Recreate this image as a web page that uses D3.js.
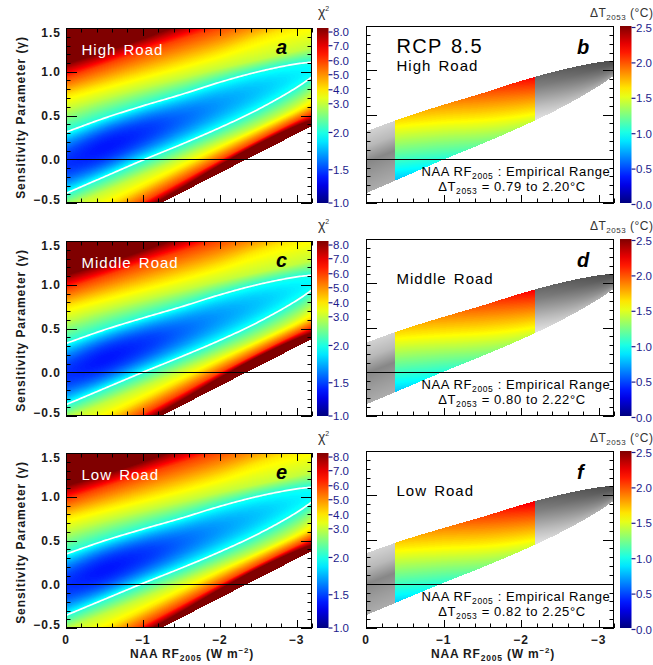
<!DOCTYPE html>
<html>
<head>
<meta charset="utf-8">
<script src="https://cdn.jsdelivr.net/npm/d3@7"></script>
<style>
  body { margin: 0; background: #fff; }
  text { font-family: "Liberation Sans", Arial, sans-serif; }
</style>
</head>
<body>
<svg width="653" height="665"></svg>
<script>
var svg = d3.select('svg');

// ---- data ----
var xs = [0, -0.5, -1.0, -1.5, -2.0, -2.5, -3.0, -3.2];
var chiLevels = [2, 3, 4, 6, 8];
// gamma of each chi2 contour above the valley (rows follow chiLevels)
var upperG = [
  [0.31, 0.47, 0.61, 0.74, 0.88, 1.00, 1.09, 1.11],
  [0.57, 0.70, 0.82, 0.93, 1.04, 1.14, 1.24, 1.28],
  [0.73, 0.85, 0.97, 1.09, 1.22, 1.38, 1.52, 1.57],
  [0.93, 1.08, 1.23, 1.37, 1.51, 1.65, 1.78, 1.83],
  [1.07, 1.21, 1.36, 1.52, 1.68, 1.83, 1.97, 2.02]
];
// gamma of each chi2 contour below the valley
var lowerG = [
  [-0.39, -0.20, -0.01, 0.17, 0.36, 0.57, 0.82, 0.94],
  [-0.55, -0.37, -0.18, 0.01, 0.20, 0.39, 0.62, 0.74],
  [-0.76, -0.54, -0.32, -0.10, 0.12, 0.33, 0.54, 0.63],
  [-0.97, -0.74, -0.49, -0.25, -0.01, 0.22, 0.44, 0.52],
  [-1.08, -0.82, -0.57, -0.32, -0.06, 0.18, 0.39, 0.46]
];
var chiMin = [1.45, 1.38, 1.45, 1.58, 1.70, 1.80, 1.90, 1.93];
// edge of the valid region (blank below it)
var blankX = [0, -1.24, -2.35, -3.2];
var blankG = [-1.06, -0.5, 0.0, 0.38];

var roads = ['High Road', 'Middle Road', 'Low Road'];
var leftLetters = ['a', 'c', 'e'];
var rightLetters = ['b', 'd', 'f'];
var roadShift = [
  [0, 0, 0, 0, 0, 0, 0, 0],
  [0.02, 0.015, 0.01, 0.008, 0.005, 0.003, 0, 0],
  [0.035, 0.028, 0.02, 0.015, 0.01, 0.005, 0, 0]
];

// empirical NAA RF2005 range and Delta T2053 along the band
var empirical = [-0.38, -2.18];
var dtX = [-0.38, -1.0, -1.6, -2.18];
var dtLow = [
  [0.79, 1.02, 1.25, 1.45],
  [0.80, 1.03, 1.26, 1.46],
  [0.82, 1.05, 1.28, 1.48]
];
var dtHigh = [
  [1.65, 1.82, 2.00, 2.20],
  [1.66, 1.84, 2.02, 2.22],
  [1.68, 1.86, 2.05, 2.25]
];
var dtRange = [['0.79', '2.20'], ['0.80', '2.22'], ['0.82', '2.25']];

// grey shading of the band outside the empirical range (bottom -> top)
var grayF = [0, 0.25, 0.5, 0.75, 1];
var grayLeft = [172, 155, 135, 185, 210];
var grayRightNear = [228, 200, 165, 130, 105];
var grayRightFar = [165, 130, 105, 85, 75];

var xTicks = [0, -1, -2, -3];
var yTicks = [-0.5, 0.0, 0.5, 1.0, 1.5];
var chiTicks = [1.0, 1.5, 2.0, 3.0, 4.0, 5.0, 6.0, 7.0, 8.0];
var dtTicks = [0.0, 0.5, 1.0, 1.5, 2.0, 2.5];

// ---- layout ----
var L = {x0: 66, x1: 312, h: 175};
var R = {x0: 366, x1: 614, h: 177};
var leftTops = [28, 241, 453];
var rightTops = [26, 239, 451];
var navy = '#1c1c8c';

// ---- colours ----
var jetScale = d3.scaleLinear().domain([0, 0.125, 0.375, 0.625, 0.875, 1])
  .range(['#00007f', '#0000ff', '#00ffff', '#ffff00', '#ff0000', '#800000']);
var lut = d3.range(256).map(function (i) {
  var c = d3.rgb(jetScale(i / 255));
  return [c.r, c.g, c.b];
});
var jetRGB = function (t) {
  t = Math.max(0, Math.min(1, t));
  return lut[Math.round(t * 255)];
};
// colour bar position of chi2 values (bar is not linear)
var chiFrac = d3.scaleLinear()
  .domain([1, 1.5, 2, 3, 4, 5, 6, 7, 8, 8.28])
  .range([0, 0.19, 0.403, 0.567, 0.647, 0.733, 0.813, 0.899, 0.977, 1]).clamp(true);

var lerpArr = function (fs, arr, f) {
  return d3.scaleLinear().domain(fs).range(arr).clamp(true)(f);
};

// smooth cubic through the sampled points (x given as NAA RF, descending)
var smooth = function (xv, yv) {
  var t = xv.map(function (v) { return -v; });
  var n = t.length, d = [], m = [];
  for (var i = 0; i < n - 1; i++) d.push((yv[i + 1] - yv[i]) / (t[i + 1] - t[i]));
  m[0] = d[0]; m[n - 1] = d[n - 2];
  for (i = 1; i < n - 1; i++) m[i] = (d[i - 1] + d[i]) / 2;
  return function (x) {
    var s = -x, k = 0;
    while (k < n - 2 && s > t[k + 1]) k++;
    var h = t[k + 1] - t[k], u = (s - t[k]) / h;
    var u2 = u * u, u3 = u2 * u;
    return (2 * u3 - 3 * u2 + 1) * yv[k] + (u3 - 2 * u2 + u) * h * m[k] +
      (-2 * u3 + 3 * u2) * yv[k + 1] + (u3 - u2) * h * m[k + 1];
  };
};

var levelFns = function (table, r) {
  return table.map(function (row) {
    return smooth(xs, row.map(function (v, i) { return v + roadShift[r][i]; }));
  });
};

var chiAt = function (g, U, Lo, m) {
  if (g <= U[0] && g >= Lo[0]) {
    var c = (U[0] + Lo[0]) / 2, hw = (U[0] - Lo[0]) / 2, u = (g - c) / hw;
    return m + (2 - m) * u * u;
  }
  var P = g > U[0] ? U : Lo;
  var s = g > U[0] ? 1 : -1;
  for (var k = 0; k < chiLevels.length - 1; k++) {
    if (s * (g - P[k + 1]) <= 0) {
      return chiLevels[k] + (chiLevels[k + 1] - chiLevels[k]) * (g - P[k]) / (P[k + 1] - P[k]);
    }
  }
  var n = chiLevels.length - 1;
  return 8 + 2 * (g - P[n]) / (P[n] - P[n - 1]);
};

var rasterImage = function (g, x0, top, w, h, pixel) {
  var canvas = document.createElement('canvas');
  canvas.width = w; canvas.height = h;
  var ctx = canvas.getContext('2d');
  var img = ctx.createImageData(w, h);
  for (var i = 0; i < w; i++) {
    var col = pixel(i);
    for (var j = 0; j < h; j++) {
      var c = col(j);
      if (!c) continue;
      var p = (j * w + i) * 4;
      img.data[p] = c[0]; img.data[p + 1] = c[1]; img.data[p + 2] = c[2]; img.data[p + 3] = 255;
    }
  }
  ctx.putImageData(img, 0, 0);
  g.append('image').attr('x', x0).attr('y', top).attr('width', w).attr('height', h)
    .attr('preserveAspectRatio', 'none').attr('href', canvas.toDataURL());
};

var drawTicks = function (g, x, y, x0, x1, top, bottom, withTop) {
  var xMinor = d3.range(0, -3.21, -0.2);
  var yMinor = d3.range(-0.5, 1.501, 0.1);
  xMinor.forEach(function (v) {
    var major = Math.abs(v - Math.round(v)) < 1e-6;
    var len = major ? 8 : 4.5;
    var px = Math.round(x(v)) + 0.5;
    g.append('line').attr('x1', px).attr('x2', px).attr('y1', bottom).attr('y2', bottom - len)
      .attr('stroke', '#000').attr('stroke-width', 1);
    if (withTop) {
      g.append('line').attr('x1', px).attr('x2', px).attr('y1', top).attr('y2', top + len)
        .attr('stroke', '#000').attr('stroke-width', 1);
    }
  });
  yMinor.forEach(function (v) {
    var major = Math.abs(v * 2 - Math.round(v * 2)) < 1e-6;
    var len = major ? 11 : 4.5;
    var py = Math.round(y(v)) + 0.5;
    g.append('line').attr('x1', x0).attr('x2', x0 + len).attr('y1', py).attr('y2', py)
      .attr('stroke', '#000').attr('stroke-width', 1);
    g.append('line').attr('x1', x1).attr('x2', x1 - len).attr('y1', py).attr('y2', py)
      .attr('stroke', '#000').attr('stroke-width', 1);
  });
};

var subText = function (sel, parts) {
  parts.forEach(function (p) {
    var t = sel.append('tspan').text(p.t);
    if (p.sub) t.attr('font-size', p.size || 9).attr('dy', p.dy);
    else if (p.dy) t.attr('dy', p.dy);
  });
};

// ---- left panels: chi2 ----
roads.forEach(function (road, r) {
  var top = leftTops[r], bottom = top + L.h;
  var g = svg.append('g');
  var x = d3.scaleLinear().domain([0, -3.2]).range([L.x0, L.x1]);
  var y = d3.scaleLinear().domain([-0.5, 1.5]).range([bottom, top]);
  var U = levelFns(upperG, r), Lo = levelFns(lowerG, r);
  var mF = smooth(xs, chiMin);
  var bF = d3.scaleLinear().domain(blankX).range(blankG);

  rasterImage(g, L.x0, top, L.x1 - L.x0, L.h, function (i) {
    var xv = x.invert(L.x0 + i + 0.5);
    var Uc = U.map(function (f) { return f(xv); });
    var Lc = Lo.map(function (f) { return f(xv); });
    var m = mF(xv), b = bF(xv);
    return function (j) {
      var gv = y.invert(top + j + 0.5);
      if (gv < b) return null;
      return jetRGB(chiFrac(chiAt(gv, Uc, Lc, m)));
    };
  });

  // chi2 = 2 contours
  var samples = d3.range(0, -3.2001, -0.02);
  [U[0], Lo[0]].forEach(function (f) {
    g.append('path')
      .attr('d', d3.line().x(function (d) { return x(d); }).y(function (d) { return y(f(d)); })(samples))
      .attr('fill', 'none').attr('stroke', '#fff').attr('stroke-width', 1.7);
  });

  g.append('line').attr('x1', L.x0).attr('x2', L.x1).attr('y1', Math.round(y(0)) + 0.5).attr('y2', Math.round(y(0)) + 0.5)
    .attr('stroke', '#000').attr('stroke-width', 1);
  g.append('rect').attr('x', L.x0 + 0.5).attr('y', top + 0.5).attr('width', L.x1 - L.x0 - 1).attr('height', L.h - 1)
    .attr('fill', 'none').attr('stroke', '#000').attr('stroke-width', 1);
  drawTicks(g, x, y, L.x0, L.x1, top, bottom, true);

  // y tick labels
  yTicks.forEach(function (v, k) {
    var shift = k === 0 ? -3.5 : (k === yTicks.length - 1 ? 4.5 : 0);
    g.append('text').attr('x', 61).attr('y', y(v) + shift).attr('dy', '0.36em')
      .attr('text-anchor', 'end').attr('font-size', 12).attr('font-weight', 'bold')
      .attr('letter-spacing', 1).attr('fill', '#1a1a1a')
      .text(d3.format('.1f')(v).replace('-', '\u2212'));
  });

  g.append('text').attr('transform', 'translate(24.5,' + (top + L.h / 2 + 2) + ') rotate(-90)')
    .attr('text-anchor', 'middle').attr('font-size', 12).attr('font-weight', 'bold')
    .attr('letter-spacing', 0.9).attr('fill', '#1a1a1a')
    .text('Sensitivity Parameter (\u03b3)');

  g.append('text').attr('x', L.x0 + 15.5).attr('y', top + 26.5).attr('font-size', 15)
    .attr('letter-spacing', 1).attr('word-spacing', 2).attr('fill', '#fff').text(road);
  g.append('text').attr('x', L.x0 + 210).attr('y', top + 25.5)
    .attr('font-family', '"Liberation Serif", "Times New Roman", serif')
    .attr('font-style', 'italic').attr('font-weight', 'bold').attr('font-size', 20).attr('fill', '#000')
    .text(leftLetters[r]);

  // chi2 colour bar
  var cbx = 317, cbw = 11.5;
  var gid = 'chiGrad' + r;
  var grad = svg.append('defs').append('linearGradient').attr('id', gid)
    .attr('x1', 0).attr('y1', 1).attr('x2', 0).attr('y2', 0);
  d3.range(0, 1.0001, 0.05).forEach(function (t) {
    grad.append('stop').attr('offset', t).attr('stop-color', jetScale(t));
  });
  g.append('rect').attr('x', cbx).attr('y', top).attr('width', cbw).attr('height', L.h).attr('fill', 'url(#' + gid + ')');
  var cb = d3.scaleLinear().domain([0, 1]).range([bottom, top]);
  chiTicks.forEach(function (v) {
    var py = cb(chiFrac(v));
    g.append('line').attr('x1', cbx + cbw).attr('x2', cbx + cbw + 4).attr('y1', py).attr('y2', py)
      .attr('stroke', navy).attr('stroke-width', 1.2);
    g.append('text').attr('x', cbx + cbw + 4.5).attr('y', py).attr('dy', '0.36em')
      .attr('font-size', 11.5).attr('fill', navy).text(d3.format('.1f')(v));
  });
  var ct = g.append('text').attr('x', cbx + 1).attr('y', top - 11).attr('font-size', 14).attr('fill', '#333');
  subText(ct, [{t: '\u03c7'}, {t: '2', sub: true, size: 7, dy: -6}]);
});

// ---- right panels: Delta T2053 ----
roads.forEach(function (road, r) {
  var top = rightTops[r], bottom = top + R.h;
  var g = svg.append('g');
  var x = d3.scaleLinear().domain([0, -3.2]).range([R.x0, R.x1]);
  var y = d3.scaleLinear().domain([-0.5, 1.5]).range([bottom, top]);
  var U0 = levelFns(upperG, r)[0], L0 = levelFns(lowerG, r)[0];
  var lowF = d3.scaleLinear().domain(dtX).range(dtLow[r]);
  var highF = d3.scaleLinear().domain(dtX).range(dtHigh[r]);

  rasterImage(g, R.x0, top, R.x1 - R.x0, R.h, function (i) {
    var xv = x.invert(R.x0 + i + 0.5);
    var u = U0(xv), lo = L0(xv);
    var a = lowF(xv), b = highF(xv);
    var wr = (xv - empirical[1]) / (-3.2 - empirical[1]);
    return function (j) {
      var gv = y.invert(top + j + 0.5);
      if (gv < lo || gv > u) return null;
      var f = (gv - lo) / (u - lo);
      if (xv <= empirical[0] && xv >= empirical[1]) {
        return jetRGB((a + f * (b - a)) / 2.5);
      }
      var k;
      if (xv > empirical[0]) k = lerpArr(grayF, grayLeft, f);
      else k = lerpArr(grayF, grayRightNear, f) * (1 - wr) + lerpArr(grayF, grayRightFar, f) * wr;
      k = Math.round(k);
      return [k, k, k];
    };
  });

  g.append('line').attr('x1', R.x0).attr('x2', R.x1).attr('y1', Math.round(y(0)) + 0.5).attr('y2', Math.round(y(0)) + 0.5)
    .attr('stroke', '#000').attr('stroke-width', 1);
  g.append('rect').attr('x', R.x0 + 0.5).attr('y', top + 0.5).attr('width', R.x1 - R.x0 - 1).attr('height', R.h - 1)
    .attr('fill', 'none').attr('stroke', '#000').attr('stroke-width', 1);
  drawTicks(g, x, y, R.x0, R.x1, top, bottom, false);

  if (r === 0) {
    g.append('text').attr('x', R.x0 + 30.5).attr('y', top + 27).attr('font-size', 20)
      .attr('letter-spacing', 1.3).attr('word-spacing', 2).attr('fill', '#000').text('RCP 8.5');
  }
  g.append('text').attr('x', R.x0 + 30.5).attr('y', top + 44.5).attr('font-size', 15)
    .attr('letter-spacing', 1).attr('word-spacing', 2).attr('fill', '#000').text(road);
  g.append('text').attr('x', R.x0 + 211).attr('y', top + 27.5)
    .attr('font-family', '"Liberation Serif", "Times New Roman", serif')
    .attr('font-style', 'italic').attr('font-weight', 'bold').attr('font-size', 20).attr('fill', '#000')
    .text(rightLetters[r]);

  var t1 = g.append('text').attr('x', R.x0 + 150).attr('y', top + 150).attr('text-anchor', 'middle')
    .attr('font-size', 13).attr('letter-spacing', 0.6).attr('fill', '#000');
  subText(t1, [{t: 'NAA RF'}, {t: '2005', sub: true, size: 8.5, dy: 2.5}, {t: ' : Empirical Range', dy: -2.5}]);
  var t2 = g.append('text').attr('x', R.x0 + 146).attr('y', top + 165).attr('text-anchor', 'middle')
    .attr('font-size', 13).attr('letter-spacing', 0.6).attr('fill', '#000');
  subText(t2, [{t: '\u0394T'}, {t: '2053', sub: true, size: 8.5, dy: 2.5},
    {t: ' = ' + dtRange[r][0] + ' to ' + dtRange[r][1] + '\u00b0C', dy: -2.5}]);

  // Delta T colour bar
  var cbx = 620, cbw = 11.5;
  var gid = 'dtGrad' + r;
  var grad = svg.append('defs').append('linearGradient').attr('id', gid)
    .attr('x1', 0).attr('y1', 1).attr('x2', 0).attr('y2', 0);
  d3.range(0, 1.0001, 0.05).forEach(function (t) {
    grad.append('stop').attr('offset', t).attr('stop-color', jetScale(t));
  });
  g.append('rect').attr('x', cbx).attr('y', top).attr('width', cbw).attr('height', R.h).attr('fill', 'url(#' + gid + ')');
  var cb = d3.scaleLinear().domain([0, 2.5]).range([bottom, top]);
  dtTicks.forEach(function (v) {
    var py = cb(v) + 1.5;
    g.append('line').attr('x1', cbx + cbw).attr('x2', cbx + cbw + 4).attr('y1', py).attr('y2', py)
      .attr('stroke', navy).attr('stroke-width', 1.2);
    g.append('text').attr('x', cbx + cbw + 4.5).attr('y', py).attr('dy', '0.36em')
      .attr('font-size', 11.5).attr('fill', navy).text(d3.format('.1f')(v));
  });
  var ct = g.append('text').attr('x', 590).attr('y', top - 9).attr('font-size', 12)
    .attr('letter-spacing', 0.5).attr('fill', '#333');
  subText(ct, [{t: '\u0394T'}, {t: '2053', sub: true, size: 8, dy: 3}, {t: ' (\u00b0C)', dy: -3}]);

  // bottom row axis labels
  if (r === roads.length - 1) {
    [[L.x0, L.x1], [R.x0, R.x1]].forEach(function (ext) {
      var xx = d3.scaleLinear().domain([0, -3.2]).range(ext);
      xTicks.forEach(function (v) {
        g.append('text').attr('x', xx(v)).attr('y', 644).attr('text-anchor', 'middle')
          .attr('font-size', 12).attr('font-weight', 'bold').attr('letter-spacing', 1).attr('fill', '#1a1a1a')
          .text(v === 0 ? '0' : '\u2212' + Math.abs(v));
      });
      var xl = g.append('text').attr('x', (ext[0] + ext[1]) / 2 + 3).attr('y', 658).attr('text-anchor', 'middle')
        .attr('font-size', 12).attr('font-weight', 'bold').attr('letter-spacing', 0.8).attr('fill', '#1a1a1a');
      subText(xl, [{t: 'NAA RF'}, {t: '2005', sub: true, size: 8.5, dy: 3}, {t: ' (W m', dy: -3},
        {t: '\u22122', sub: true, size: 8, dy: -5}, {t: ')', dy: 5}]);
    });
  }
});
</script>
</body>
</html>
